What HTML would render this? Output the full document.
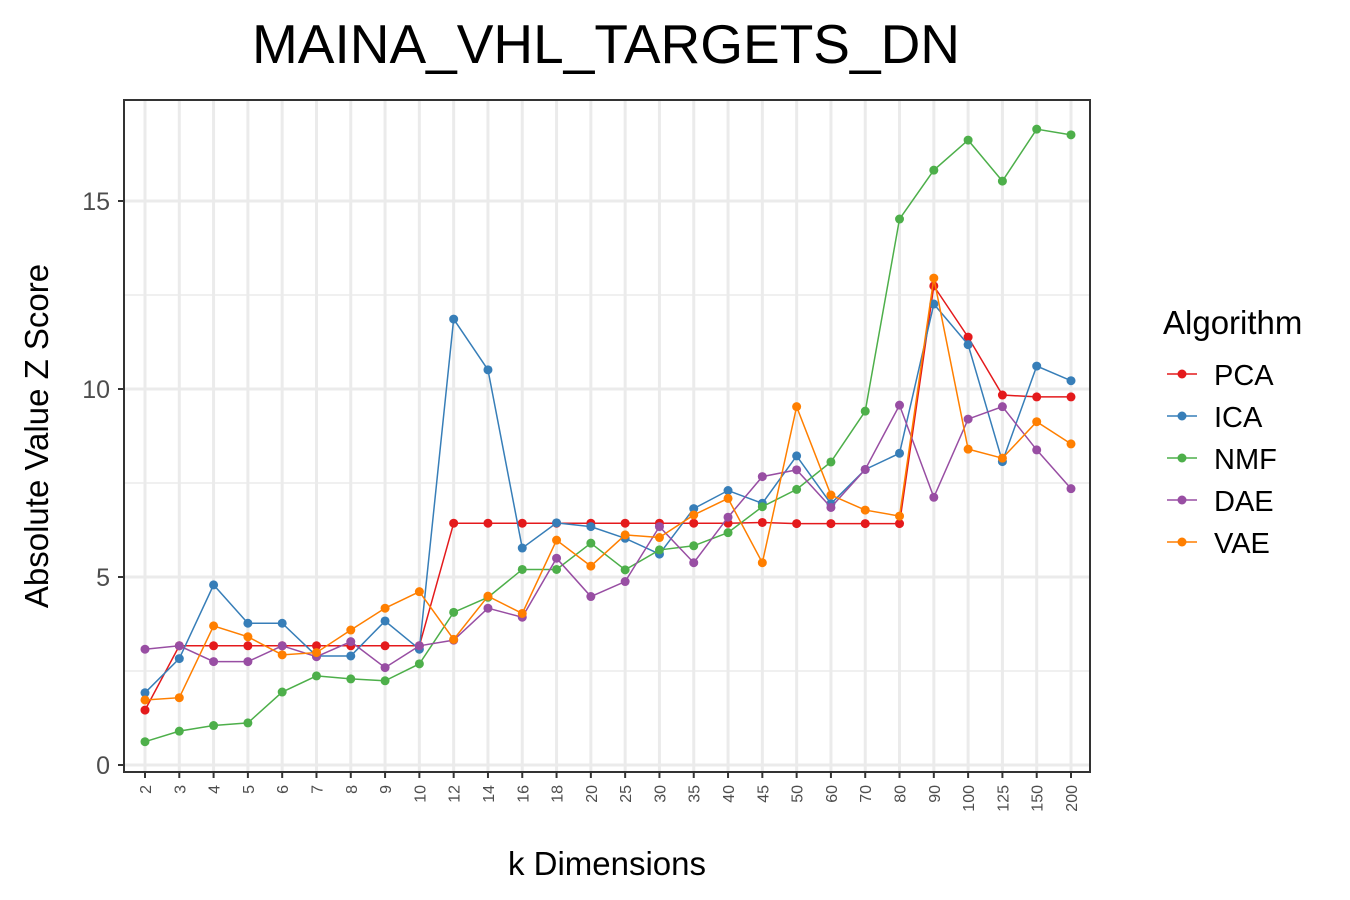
<!DOCTYPE html>
<html><head><meta charset="utf-8"><style>
body{margin:0;background:#fff;}
svg{display:block;font-family:"Liberation Sans",Arial,sans-serif;}
</style></head><body>
<svg id="chart" width="1350" height="900" viewBox="0 0 1350 900"></svg>
<script>
const categories=["2","3","4","5","6","7","8","9","10","12","14","16","18","20","25","30","35","40","45","50","60","70","80","90","100","125","150","200"];
const seriesNames=["PCA","ICA","NMF","DAE","VAE"];
const seriesColors=["#e41a1c","#377eb8","#4daf4a","#984ea3","#ff7f00"];
const pcaValues=[1.46,3.17,3.17,3.17,3.17,3.17,3.17,3.17,3.17,6.43,6.43,6.43,6.43,6.43,6.43,6.43,6.43,6.43,6.45,6.42,6.42,6.42,6.42,12.74,11.38,9.84,9.79,9.79];
const icaValues=[1.92,2.83,4.79,3.77,3.77,2.90,2.90,3.83,3.08,11.86,10.51,5.77,6.44,6.34,6.03,5.61,6.82,7.30,6.96,8.22,6.95,7.86,8.29,12.26,11.18,8.07,10.61,10.22];
const nmfValues=[0.62,0.90,1.05,1.12,1.94,2.37,2.29,2.24,2.69,4.06,4.46,5.20,5.20,5.90,5.19,5.72,5.83,6.18,6.87,7.33,8.06,9.41,14.52,15.82,16.62,15.53,16.91,16.76];
const daeValues=[3.08,3.17,2.75,2.75,3.17,2.88,3.28,2.59,3.17,3.32,4.17,3.93,5.50,4.48,4.88,6.34,5.38,6.59,7.67,7.85,6.85,7.86,9.57,7.12,9.20,9.53,8.38,7.35];
const vaeValues=[1.73,1.79,3.70,3.41,2.93,2.99,3.59,4.17,4.61,3.34,4.49,4.03,5.98,5.29,6.12,6.05,6.65,7.09,5.38,9.53,7.18,6.78,6.62,12.95,8.40,8.16,9.13,8.54];
const yTicks=[0,5,10,15];
const yMinor=[2.5,7.5,12.5];

const allSeries=[pcaValues,icaValues,nmfValues,daeValues,vaeValues];
const NS="http://www.w3.org/2000/svg";
const svg=document.getElementById("chart");
const PL=124,PR=1090,PT=100,PB=772;
function xScale(i){return 145+i*(1071-145)/(categories.length-1);}
function yScale(v){return 765-v*37.6;}
function mk(tag,attrs,parent){const e=document.createElementNS(NS,tag);for(const k in attrs)e.setAttribute(k,attrs[k]);(parent||svg).appendChild(e);return e;}

const title=mk("text",{x:606,y:63,"text-anchor":"middle","font-size":55,fill:"#000"});


title.textContent="MAINA_VHL_TARGETS_DN";

const grid=mk("g",{});


yMinor.forEach(v=>{mk("line",{x1:PL,x2:PR,y1:yScale(v),y2:yScale(v),stroke:"#ebebeb","stroke-width":1.5},grid);});
yTicks.forEach(v=>{mk("line",{x1:PL,x2:PR,y1:yScale(v),y2:yScale(v),stroke:"#ebebeb","stroke-width":3},grid);});
categories.forEach((c,i)=>{mk("line",{x1:xScale(i),x2:xScale(i),y1:PT,y2:PB,stroke:"#ebebeb","stroke-width":3},grid);});

allSeries.forEach((vals,s)=>{
  const g=mk("g",{});
  
  
  const pts=vals.map((v,i)=>xScale(i)+","+yScale(v)).join(" ");
  mk("polyline",{points:pts,fill:"none",stroke:seriesColors[s],"stroke-width":1.5},g);
  vals.forEach((v,i)=>{
    const c=mk("circle",{cx:xScale(i),cy:yScale(v),r:4.5,fill:seriesColors[s]},g);
    
    
  });
});

const border=mk("rect",{x:PL,y:PT,width:PR-PL,height:PB-PT,fill:"none",stroke:"#333","stroke-width":2});



const yAxis=mk("g",{});


yTicks.forEach(v=>{
  mk("line",{x1:PL-6,x2:PL,y1:yScale(v),y2:yScale(v),stroke:"#333","stroke-width":2},yAxis);
  const t=mk("text",{x:PL-14,y:yScale(v)+9,"text-anchor":"end","font-size":25,fill:"#4d4d4d"},yAxis);
  
  
  t.textContent=v;
});
const xAxis=mk("g",{});


categories.forEach((c,i)=>{
  const x=xScale(i);
  mk("line",{x1:x,x2:x,y1:PB,y2:PB+6,stroke:"#333","stroke-width":2},xAxis);
  const t=mk("text",{x:x+6,y:785,"text-anchor":"end","font-size":16,fill:"#4d4d4d",transform:`rotate(-90 ${x+6} 785)`},xAxis);
  
  
  t.textContent=c;
});
const xt=mk("text",{x:607,y:875,"text-anchor":"middle","font-size":33,fill:"#000"});


xt.textContent="k Dimensions";
const yt=mk("text",{x:48,y:436,"text-anchor":"middle","font-size":33,fill:"#000",transform:"rotate(-90 48 436)"});


yt.textContent="Absolute Value Z Score";

const legend=mk("g",{});


const lt=mk("text",{x:1163,y:334,"font-size":33,fill:"#000"},legend);


lt.textContent="Algorithm";
seriesNames.forEach((n,s)=>{
  const y=374+s*42;
  const e=mk("g",{},legend);
  
  
  mk("line",{x1:1167,x2:1197,y1:y,y2:y,stroke:seriesColors[s],"stroke-width":1.5},e);
  mk("circle",{cx:1182,cy:y,r:4.5,fill:seriesColors[s]},e);
  const t=mk("text",{x:1214,y:y+11,"font-size":29,fill:"#000"},e);
  t.textContent=n;
});
</script>
</body></html>
